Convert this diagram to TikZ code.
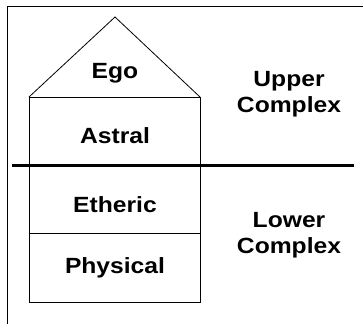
\documentclass[tikz,border=0pt]{standalone}
\usepackage{fontspec}
\setmainfont{Liberation Sans}
\begin{document}
\begin{tikzpicture}[x=1pt,y=-1pt,
    layertext/.style={font=\fontsize{22}{25.5}\selectfont\bfseries,align=center,anchor=base,inner sep=0pt,xscale=1.12},
    houseline/.style={line width=0.8pt}]
  \useasboundingbox (0,0) rectangle (363,324);
  % frame
  \draw[houseline] (363,6) -- (7,6) -- (7,324);
  % house
  \coordinate (apex) at (115,17);
  \coordinate (roofL) at (29,97);
  \coordinate (roofR) at (200,97);
  \coordinate (baseL) at (29,302);
  \coordinate (baseR) at (200,302);
  \coordinate (midL) at (29,233);
  \coordinate (midR) at (200,233);
  \draw[houseline] (roofL) -- (apex) -- (roofR);
  \draw[houseline] (roofL) rectangle (baseR);
  \draw[houseline] (midL) -- (midR);
  % divider
  \coordinate (divL) at (12,165);
  \coordinate (divR) at (354,165);
  \draw[line width=3pt] (divL) -- (divR);
  % layers (base = last line for two-line nodes)
  \node[layertext] (ego) at (115,78) {Ego};
  \node[layertext] (astral) at (115,143) {Astral};
  \node[layertext] (etheric) at (115,212) {Etheric};
  \node[layertext] (physical) at (115,273) {Physical};
  \node[layertext] (upper) at (289,112) {Upper\\Complex};
  \node[layertext] (lower) at (289,253) {Lower\\Complex};
\end{tikzpicture}
\end{document}
